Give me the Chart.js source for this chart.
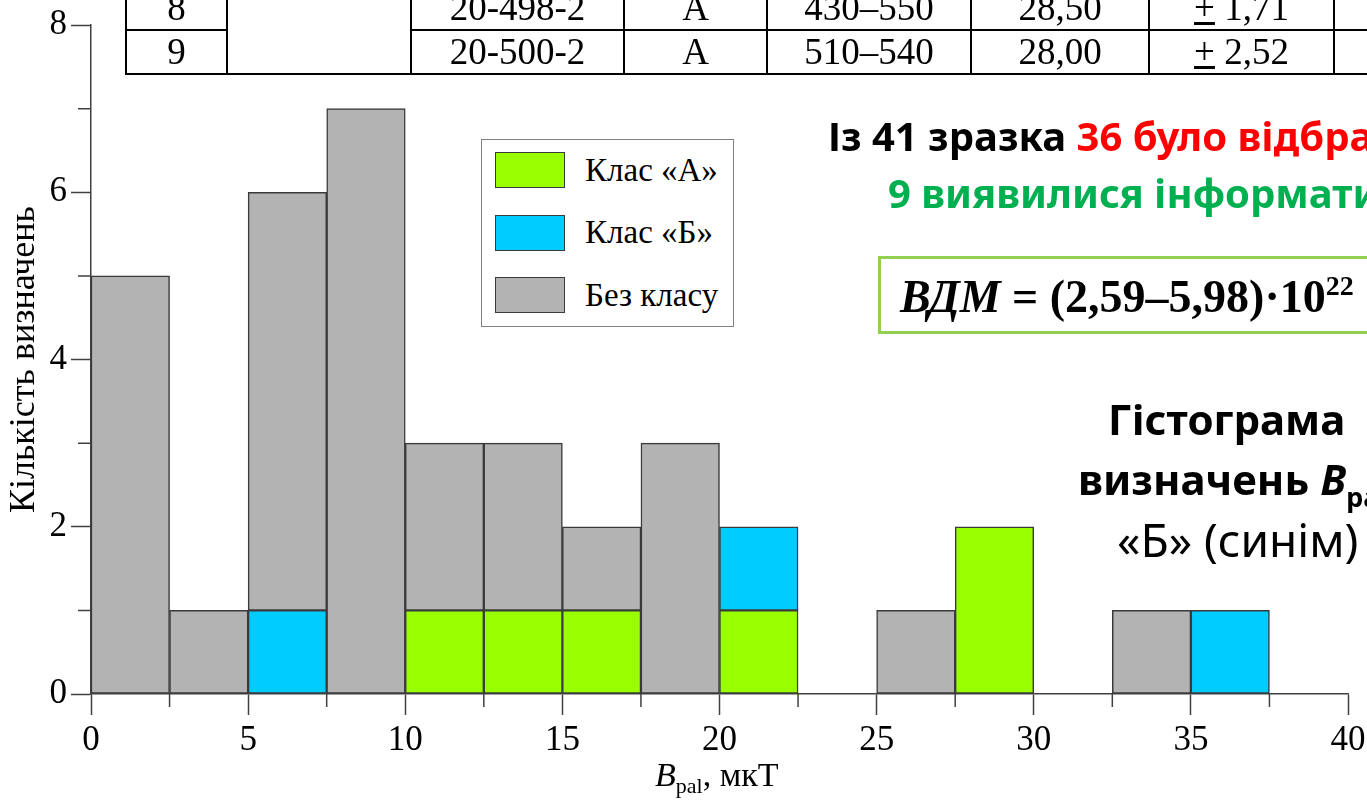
<!DOCTYPE html>
<html>
<head>
<meta charset="utf-8">
<script src="https://cdn.jsdelivr.net/npm/chart.js@4"></script>
<style>
  html, body { margin: 0; padding: 0; background: #fff; }
  body { width: 1367px; height: 804px; overflow: hidden; position: relative; }
  #chart { position: absolute; left: 0; top: 0; }
  .serif { font-family: "Liberation Serif", "Times New Roman", serif; }
  .sans { font-family: "Noto Sans", "Open Sans", sans-serif; }
  #topTable { position: absolute; left: 125px; top: -15px; width: 1267px; table-layout: fixed; border-collapse: collapse; font-size: 37px; }
  #topTable td { border: 2.5px solid #000; height: 42px; padding: 0; text-align: center; line-height: 42px; white-space: nowrap; }
  #legend { position: absolute; left: 481px; top: 139px; width: 251px; height: 186px; border: 1.5px solid #808080; background: #fff; }
  .lg-row { position: absolute; left: 13px; height: 36px; display: flex; align-items: center; font-size: 33px; }
  .lg-sw { width: 68px; height: 34px; border: 1.5px solid #3a3a3a; margin-right: 20px; flex: none; }
  .note { position: absolute; white-space: nowrap; line-height: 1; }
  #xTitle { position: absolute; left: 655px; top: 758px; font-size: 34px; white-space: nowrap; line-height: 1; }
  #xTitle sub { font-size: 22px; vertical-align: -7px; }
  #vdm { position: absolute; left: 878px; top: 256px; width: 600px; height: 72px; border: 3px solid #92d050; }
</style>
</head>
<body>
<canvas id="chart" width="1367" height="804"></canvas>

<table id="topTable" class="serif">
  <colgroup>
    <col style="width:101px"><col style="width:184px"><col style="width:213px"><col style="width:143px">
    <col style="width:204px"><col style="width:178px"><col style="width:185px"><col style="width:59px">
  </colgroup>
  <tr>
    <td>8</td>
    <td rowspan="2"></td>
    <td>20-498-2</td>
    <td>А</td>
    <td>430–550</td>
    <td>28,50</td>
    <td><u>+</u> 1,71</td>
    <td></td>
  </tr>
  <tr>
    <td>9</td>
    <td>20-500-2</td>
    <td>А</td>
    <td>510–540</td>
    <td>28,00</td>
    <td><u>+</u> 2,52</td>
    <td></td>
  </tr>
</table>

<div id="legend" class="serif"></div>

<div id="xTitle" class="serif"><i>B</i><sub>pal</sub>, мкТ</div>

<div class="note sans" style="left:828px; top:116px; font-size:40px; font-weight:700">
  <span style="color:#000">Із 41 зразка </span><span style="color:#ff0000">36 було відбраковано</span>
</div>
<div class="note sans" style="left:888px; top:173px; font-size:40px; font-weight:700; color:#00b050">
  9 виявилися інформативними
</div>
<div id="vdm"></div>
<div class="note serif" style="left:900px; top:272px; font-size:46px; font-weight:700">
  <i>ВДМ</i> = (2,59–5,98)·10<sup style="font-size:28px; vertical-align:17px">22</sup>
</div>
<div class="note sans" style="left:1108px; top:398px; font-size:42px; font-weight:700">Гістограма</div>
<div class="note sans" style="left:1078px; top:458px; font-size:42px; font-weight:700">визначень <i>B</i><sub style="font-size:27px; vertical-align:-12px">pal</sub></div>
<div class="note sans" style="left:1117px; top:516px; font-size:46px">«Б» (синім)</div>

<script>
// histogram bins of B_pal, μT (lower edge of each bin, width 2.5)
const binLow = [0, 2.5, 5, 7.5, 10, 12.5, 15, 17.5, 20, 22.5, 25, 27.5, 30, 32.5, 35, 37.5];
const binWidth = 2.5;

// counts per bin
const classA = [0, 0, 0, 0, 1, 1, 1, 0, 1, 0, 0, 2, 0, 0, 0, 0];
const classB = [0, 0, 1, 0, 0, 0, 0, 0, 1, 0, 0, 0, 0, 0, 1, 0];
const noClass = [5, 1, 5, 7, 2, 2, 1, 3, 0, 0, 1, 0, 0, 1, 0, 0];

const seriesNames = ["Клас «А»", "Клас «Б»", "Без класу"];
const seriesColors = ["#99ff00", "#00ccff", "#b3b3b3"];

const xTicks = [0, 5, 10, 15, 20, 25, 30, 35, 40];
const yTicks = [0, 2, 4, 6, 8];

const serif = "'Liberation Serif', 'Times New Roman', serif";
const axisColor = "#404040";

function toPoints(values) {
  return values.map((v, i) => ({ x: binLow[i] + binWidth / 2, y: v || null }));
}

// build html legend from the series
const legendEl = document.getElementById("legend");
seriesNames.forEach((name, i) => {
  const row = document.createElement("div");
  row.className = "lg-row";
  row.style.top = 12 + i * 62.5 + "px";
  row.innerHTML = `<div class="lg-sw" style="background:${seriesColors[i]}"></div><span>${name}</span>`;
  legendEl.appendChild(row);
});

// shorter in-between ticks
const minorTicks = {
  id: "minorTicks",
  afterDraw(chart) {
    const { ctx, scales } = chart;
    const x = scales.x;
    const y = scales.y;
    ctx.save();
    ctx.strokeStyle = axisColor;
    ctx.lineWidth = 1.5;
    ctx.beginPath();
    for (let v = binWidth; v < 40; v += 2 * binWidth) {
      const px = x.getPixelForValue(v);
      ctx.moveTo(px, y.bottom);
      ctx.lineTo(px, y.bottom + 13);
    }
    for (let v = 1; v < 8; v += 2) {
      const py = y.getPixelForValue(v);
      ctx.moveTo(x.left, py);
      ctx.lineTo(x.left - 13, py);
    }
    ctx.stroke();
    ctx.restore();
  },
};

const datasets = [classA, classB, noClass].map((values, i) => ({
  label: seriesNames[i],
  data: toPoints(values),
  backgroundColor: seriesColors[i],
  borderColor: "#3a3a3a",
  borderWidth: 1.5,
  borderSkipped: false,
  barPercentage: 1,
  categoryPercentage: 1,
}));

new Chart(document.getElementById("chart").getContext("2d"), {
  type: "bar",
  data: { datasets },
  options: {
    responsive: false,
    animation: false,
    layout: { padding: { top: 24, right: 19, left: 0, bottom: 0 } },
    plugins: { legend: { display: false }, tooltip: { enabled: false } },
    scales: {
      x: {
        type: "linear",
        stacked: true,
        min: 0,
        max: 40,
        offset: false,
        afterBuildTicks: (scale) => {
          scale.ticks = xTicks.map((v) => ({ value: v }));
        },
        afterFit: (scale) => {
          scale.height = 110;
          scale.paddingLeft = 0;
          scale.paddingRight = 0;
        },
        ticks: {
          color: "#000",
          font: { family: serif, size: 35 },
          padding: 5,
          maxRotation: 0,
          autoSkip: false,
        },
        grid: {
          offset: false,
          drawOnChartArea: false,
          tickLength: 21,
          tickColor: axisColor,
          tickWidth: 1.5,
        },
        border: { color: axisColor, width: 1.5 },
      },
      y: {
        stacked: true,
        min: 0,
        max: 8,
        afterBuildTicks: (scale) => {
          scale.ticks = yTicks.map((v) => ({ value: v }));
        },
        afterFit: (scale) => {
          scale.width = 91;
        },
        ticks: {
          color: "#000",
          font: { family: serif, size: 35 },
          padding: 4,
        },
        grid: {
          drawOnChartArea: false,
          tickLength: 20,
          tickColor: axisColor,
          tickWidth: 1.5,
        },
        border: { color: axisColor, width: 1.5 },
        title: {
          display: true,
          text: "Кількість визначень",
          color: "#000",
          font: { family: serif, size: 36 },
          padding: { top: 3 },
        },
      },
    },
  },
  plugins: [minorTicks],
});
</script>
</body>
</html>
